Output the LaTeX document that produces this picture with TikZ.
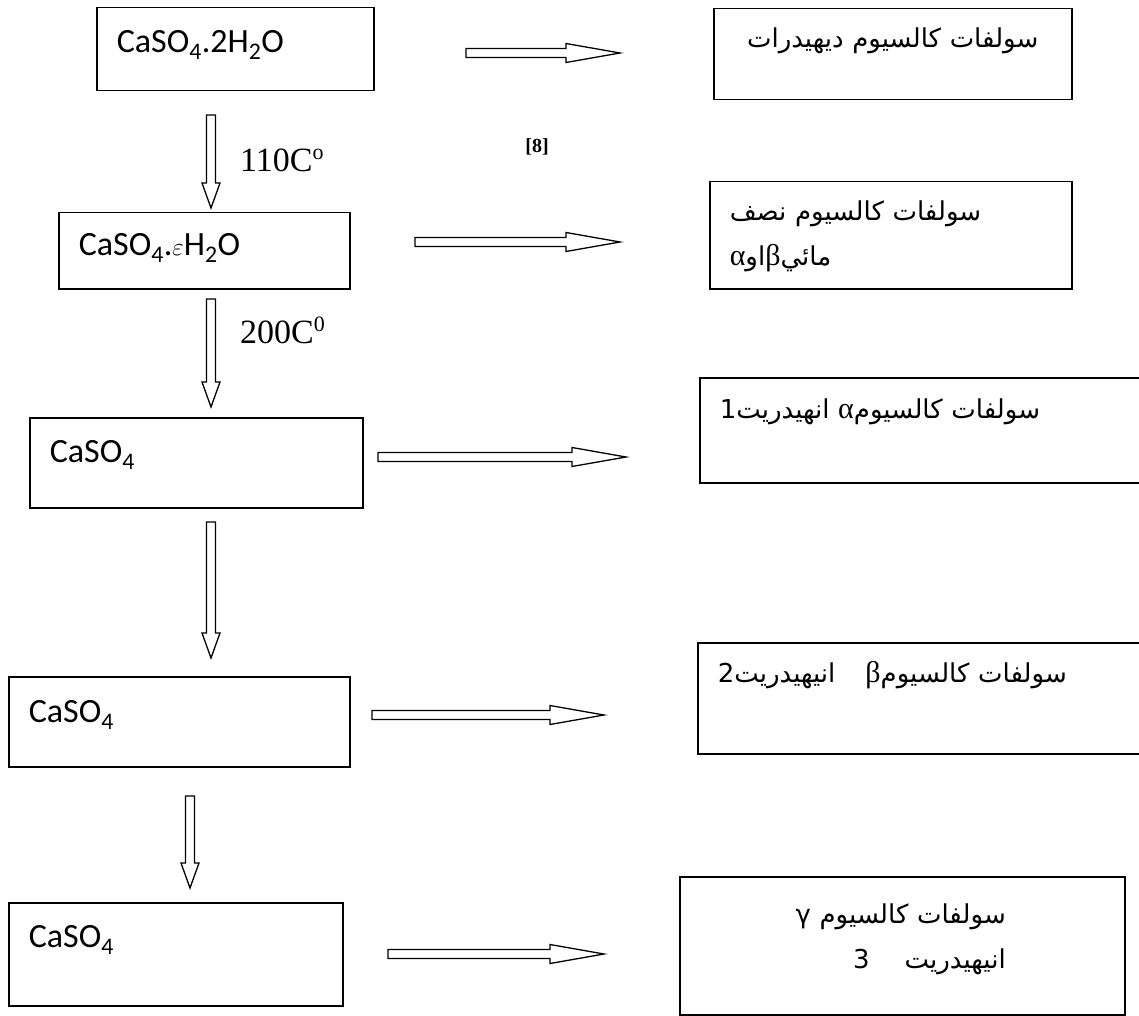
\documentclass[tikz,border=0pt]{standalone}
\usepackage{fontspec}
\setmainfont{Carlito}
\newfontfamily\arabicfont[Script=Arabic]{DejaVu Sans}
\newfontfamily\timesfont{Liberation Serif}
\TeXXeTstate=1
\usetikzlibrary{calc}

\newcommand{\grk}[1]{{\timesfont\fontsize{30}{45}\selectfont #1}}
\newcommand{\degsup}[1]{\raisebox{12pt}{\fontsize{22}{24}\selectfont #1}}

\tikzset{
  chem/.style={draw, line width=1.5pt, anchor=north west, inner xsep=20pt, inner ysep=0pt, align=left, font=\fontsize{34}{40}\selectfont},
  phase/.style={chem, font=\arabicfont\fontsize{26}{45}\selectfont},
  temp/.style={anchor=base west, inner sep=0pt, font=\timesfont\fontsize{34}{40}\selectfont},
  rightarr/.style={draw, line width=1.3pt, to path={let \p1=(\tikztostart), \p2=(\tikztotarget) in
      (\x1,\y1+4.5pt) -- (\x2-54pt,\y1+4.5pt) -- (\x2-54pt,\y1+9.5pt) -- (\x2,\y1)
      -- (\x2-54pt,\y1-9.5pt) -- (\x2-54pt,\y1-4.5pt) -- (\x1,\y1-4.5pt) -- cycle}},
  downarr/.style={draw, line width=1.3pt, to path={let \p1=(\tikztostart), \p2=(\tikztotarget) in
      (\x1-4.5pt,\y1) -- (\x1-4.5pt,\y2+25pt) -- (\x1-9pt,\y2+25pt) -- (\x1,\y2)
      -- (\x1+9pt,\y2+25pt) -- (\x1+4.5pt,\y2+25pt) -- (\x1+4.5pt,\y1) -- cycle}}
}

\begin{document}
\begin{tikzpicture}[x=1pt,y=-1pt]
  \useasboundingbox (0,0) rectangle (1139,1016);
  \fill[white] (0,0) rectangle (1139,1016);

  % left column
  \node[chem, text width=237pt, text height=45pt, text depth=38pt] (DIH) at (96,7) {CaSO\textsubscript{4}.2H\textsubscript{2}O};
  \node[chem, text width=251pt, text height=43pt, text depth=33pt] (HEMI) at (58,212) {CaSO\textsubscript{4}.\(\varepsilon\)H\textsubscript{2}O};
  \node[chem, text width=293pt, text height=45pt, text depth=45pt] (ANH1) at (29,417) {CaSO\textsubscript{4}};
  \node[chem, text width=301pt, text height=46pt, text depth=44pt] (ANH2) at (8,676) {CaSO\textsubscript{4}};
  \node[chem, text width=294pt, text height=45pt, text depth=58pt] (ANH3) at (8,902) {CaSO\textsubscript{4}};

  % right column
  \node[phase, text width=318pt, align=center, text height=39pt, text depth=52pt] (TDIH) at (713,8)
    {\beginR سولفات كالسيوم ديهيدرات\endR};
  \node[phase, text width=322pt, text height=39pt, text depth=68pt] (THEMI) at (709,181)
    {\beginR سولفات كالسيوم نصف\endR\\\beginR مائي\grk{β}او\grk{α}\endR};
  \node[phase, text width=406pt, text height=41pt, text depth=64pt] (TANH1) at (699,377)
    {\beginR سولفات كالسيوم\grk{α} انهيدريت\kern0pt 1\endR};
  \node[phase, text width=408pt, text height=40pt, text depth=71pt] (TANH2) at (697,642)
    {\beginR سولفات كالسيوم\grk{β}\hspace{30pt}انيهيدريت\kern0pt 2\endR};
  \node[phase, text width=405pt, align=right, text height=47pt, text depth=91pt] (TANH3) at (679,876)
    {\beginR سولفات كالسيوم γ\endR\kern99pt\\\beginR انيهيدريت\hspace{35pt}3\endR\kern99pt};

  % labels
  \node[temp] (T110) at (240,172) {110C\degsup{o}};
  \node[temp] (T200) at (240,343) {200C\degsup{0}};
  \node[anchor=base, inner sep=0pt, font=\timesfont\bfseries\fontsize{20}{24}\selectfont] (REF) at (537,153) {[8]};

  % arrow ends
  \coordinate (h1a) at (466,53);  \coordinate (h1b) at (620,53);
  \coordinate (h2a) at (415,242); \coordinate (h2b) at (620,242);
  \coordinate (h3a) at (378,457); \coordinate (h3b) at (626,457);
  \coordinate (h4a) at (372,715); \coordinate (h4b) at (604,715);
  \coordinate (h5a) at (388,954); \coordinate (h5b) at (604,954);
  \coordinate (v1a) at (211,115); \coordinate (v1b) at (211,208);
  \coordinate (v2a) at (211,299); \coordinate (v2b) at (211,407);
  \coordinate (v3a) at (211,522); \coordinate (v3b) at (211,658);
  \coordinate (v4a) at (190,796); \coordinate (v4b) at (190,888);

  \draw[rightarr] (h1a) to (h1b);
  \draw[rightarr] (h2a) to (h2b);
  \draw[rightarr] (h3a) to (h3b);
  \draw[rightarr] (h4a) to (h4b);
  \draw[rightarr] (h5a) to (h5b);
  \draw[downarr] (v1a) to (v1b);
  \draw[downarr] (v2a) to (v2b);
  \draw[downarr] (v3a) to (v3b);
  \draw[downarr] (v4a) to (v4b);
\end{tikzpicture}
\end{document}
